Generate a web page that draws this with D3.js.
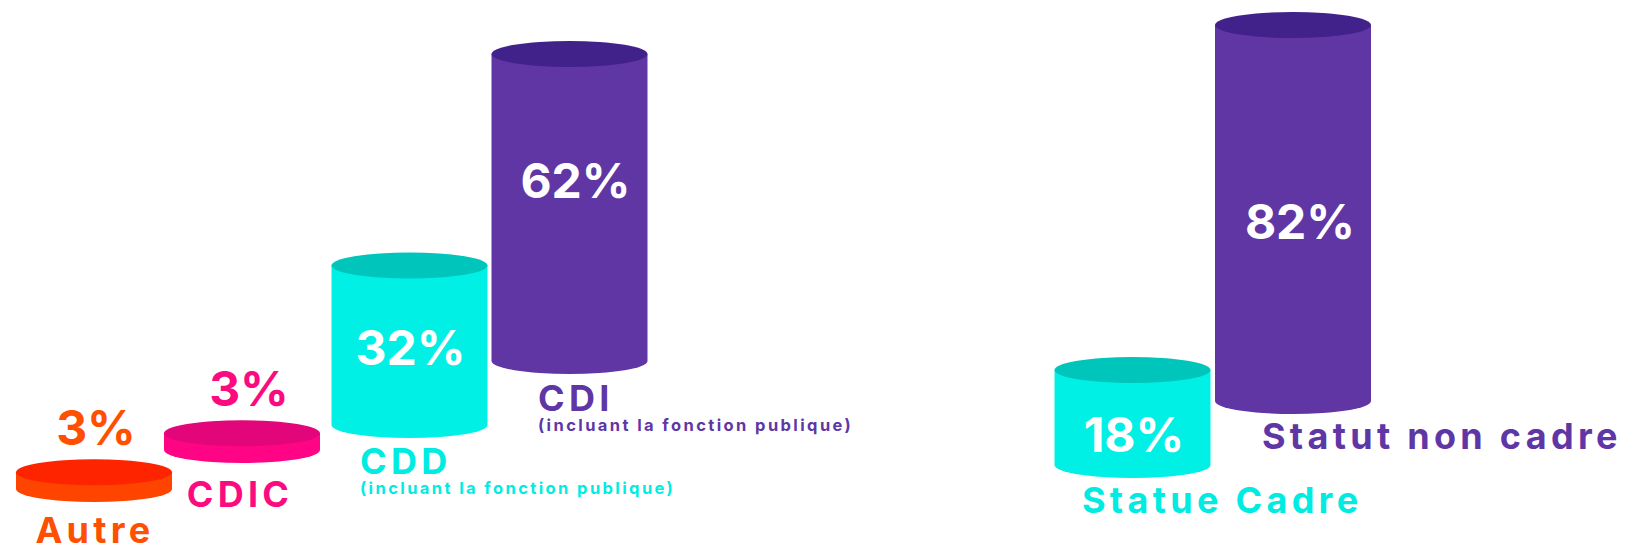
<!DOCTYPE html>
<html>
<head>
<meta charset="utf-8">
<script src="https://cdn.jsdelivr.net/npm/d3@7"></script>
<style>
  html, body { margin: 0; padding: 0; background: #fff; }
  svg { display: block; }
  text { font-family: Inter, "DejaVu Sans", sans-serif; font-weight: 700; }
</style>
</head>
<body>
<div id="chart"></div>
<script>
// Data
const contratCategories = ["Autre", "CDIC", "CDD", "CDI"];
const contratValues = [3, 3, 32, 62];
const contratSubtitles = ["", "", "(incluant la fonction publique)", "(incluant la fonction publique)"];

const statutCategories = ["Statue Cadre", "Statut non cadre"];
const statutValues = [18, 82];
const statutSubtitles = ["", ""];

// Colours per category
const colors = {
  "Autre": { side: "#ff4400", top: "#ff2400", text: "#ff4f00" },
  "CDIC": { side: "#ff0586", top: "#e2067a", text: "#fc0a80" },
  "CDD": { side: "#00f0e5", top: "#00c5bb", text: "#00ece2" },
  "CDI": { side: "#6036a5", top: "#41218a", text: "#5f36a5" },
  "Statue Cadre": { side: "#00f0e5", top: "#00c5bb", text: "#00ece2" },
  "Statut non cadre": { side: "#6036a5", top: "#41218a", text: "#5f36a5" },
};

// Dimensions
const dimensions = { width: 1629, height: 547, rx: 78, ry: 13 };

const svg = d3
  .select("#chart")
  .append("svg")
  .attr("width", dimensions.width)
  .attr("height", dimensions.height);

// One group of cylinders
function cylinders(cfg) {
  const data = cfg.categories.map((c, i) => ({
    name: c,
    value: cfg.values[i],
    subtitle: cfg.subtitles[i],
  }));

  // Scales
  const xScale = d3.scaleOrdinal().domain(cfg.categories).range(cfg.centers);
  const baseScale = d3.scaleOrdinal().domain(cfg.categories).range(cfg.bases);
  const hScale = d3.scaleLinear().domain([0, 100]).range(cfg.heightRange);

  const { rx, ry } = dimensions;
  const top = (d) => baseScale(d.name) - hScale(d.value);

  const g = svg.append("g");

  const cyl = g
    .selectAll("g.cyl")
    .data(data)
    .join("g")
    .classed("cyl", true);

  // body + rounded bottom
  cyl
    .append("path")
    .attr("fill", (d) => colors[d.name].side)
    .attr("d", (d) => {
      const x0 = xScale(d.name) - rx;
      const x1 = xScale(d.name) + rx;
      const b = baseScale(d.name);
      return `M${x0},${top(d)} L${x0},${b} A${rx},${ry} 0 0 0 ${x1},${b} L${x1},${top(d)} Z`;
    });

  // top face
  cyl
    .append("ellipse")
    .attr("cx", (d) => xScale(d.name))
    .attr("cy", top)
    .attr("rx", rx)
    .attr("ry", ry)
    .attr("fill", (d) => colors[d.name].top);

  // value labels
  cyl
    .append("text")
    .attr("text-anchor", "middle")
    .attr("x", (d, i) => xScale(d.name) + cfg.valueDx[i])
    .attr("y", (d, i) =>
      cfg.valueY[i] === null ? top(d) - ry - 14 : cfg.valueY[i]
    )
    .attr("fill", (d, i) => (cfg.valueY[i] === null ? colors[d.name].text : "#fff"))
    .style("font-size", "48px")
    .text((d) => `${d.value}%`);

  // category names
  cyl
    .append("text")
    .attr("text-anchor", (d, i) => cfg.nameAnchor[i])
    .attr("x", (d, i) => cfg.nameX[i])
    .attr("y", (d, i) => cfg.nameY[i])
    .attr("fill", (d) => colors[d.name].text)
    .style("font-size", "36px")
    .style("letter-spacing", "4.3px")
    .text((d) => d.name);

  // "(incluant la fonction publique)"
  cyl
    .filter((d) => d.subtitle)
    .append("text")
    .attr("x", (d) => cfg.nameX[cfg.categories.indexOf(d.name)])
    .attr("y", (d) => cfg.nameY[cfg.categories.indexOf(d.name)] + 20)
    .attr("fill", (d) => colors[d.name].text)
    .style("font-size", "16.5px")
    .style("letter-spacing", "2.4px")
    .text((d) => d.subtitle);
}

// Contract types
cylinders({
  categories: contratCategories,
  values: contratValues,
  subtitles: contratSubtitles,
  centers: [94, 242, 409.5, 569.5],
  bases: [489, 450, 425, 361],
  heightRange: [2, 494],
  valueY: [null, null, 365, 198],
  valueDx: [2, 7, 1, 6],
  nameAnchor: ["middle", "middle", "start", "start"],
  nameX: [95, 240, 360, 538],
  nameY: [543, 507, 474, 411],
});

// Status
cylinders({
  categories: statutCategories,
  values: statutValues,
  subtitles: statutSubtitles,
  centers: [1132.5, 1293],
  bases: [465, 401],
  heightRange: [16, 455],
  valueY: [452, 239],
  valueDx: [1.5, 7],
  nameAnchor: ["start", "start"],
  nameX: [1082, 1262],
  nameY: [513, 449],
});
</script>
</body>
</html>
